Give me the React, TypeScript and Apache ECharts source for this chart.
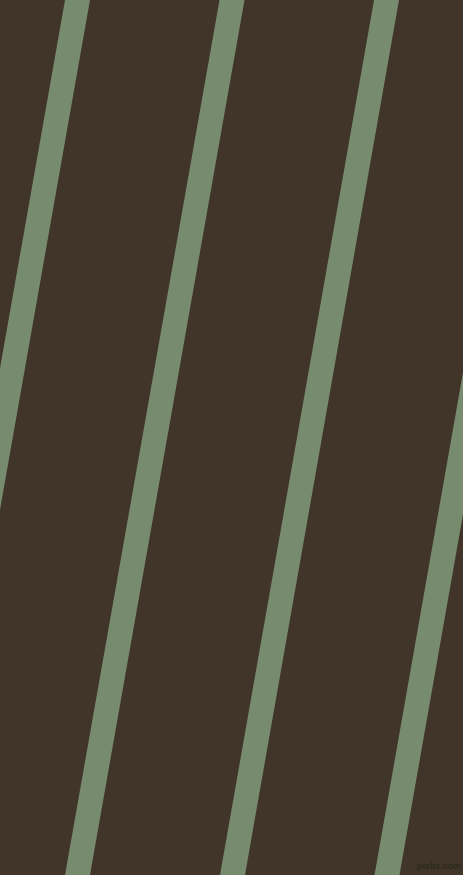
import React, { useEffect, useRef } from "react";
import * as echarts from "echarts";

const W = 463;
const H = 875;

// Stripe centre-line x positions at the top (y = 0) and bottom (y = 875) edges
const stripeTopX = [77.5, 232, 386.5, 541];
const stripeBottomX = [-77, 77.5, 232.5, 387];
const stripeNames = ["stripe 1", "stripe 2", "stripe 3", "stripe 4"];

const BG = "#403528";
const STRIPE = "#778c6f";

export default function App() {
  const ref = useRef<HTMLDivElement>(null);
  useEffect(() => {
    if (!ref.current) return;
    const chart = echarts.init(ref.current, null, { renderer: "svg" });
    // extend lines slightly beyond the frame so caps are clipped
    const ext = 60;
    const slopeFor = (i: number) => (stripeBottomX[i] - stripeTopX[i]) / H;
    const series = stripeNames.map((name, i) => {
      const s = slopeFor(i);
      return {
        name,
        type: "line",
        clip: true,
        symbol: "none",
        silent: true,
        lineStyle: { color: STRIPE, width: 24.6, cap: "butt" },
        data: [
          [stripeTopX[i] - s * ext, -ext],
          [stripeBottomX[i] + s * ext, H + ext],
        ],
      };
    });
    chart.setOption({
      animation: false,
      backgroundColor: BG,
      grid: { left: 0, right: 0, top: 0, bottom: 0 },
      xAxis: { type: "value", min: 0, max: W, show: false },
      yAxis: { type: "value", min: 0, max: H, inverse: true, show: false },
      series,
      graphic: [
        {
          type: "text",
          right: 2,
          top: 861,
          style: {
            text: "pixlis.com",
            fill: "#2d291f",
            font: "bold 9px 'Liberation Sans', sans-serif",
          },
        },
      ],
    });
    return () => chart.dispose();
  }, []);
  return (
    <div
      ref={ref}
      style={{ position: "fixed", left: 0, top: 0, width: W, height: H }}
    />
  );
}
